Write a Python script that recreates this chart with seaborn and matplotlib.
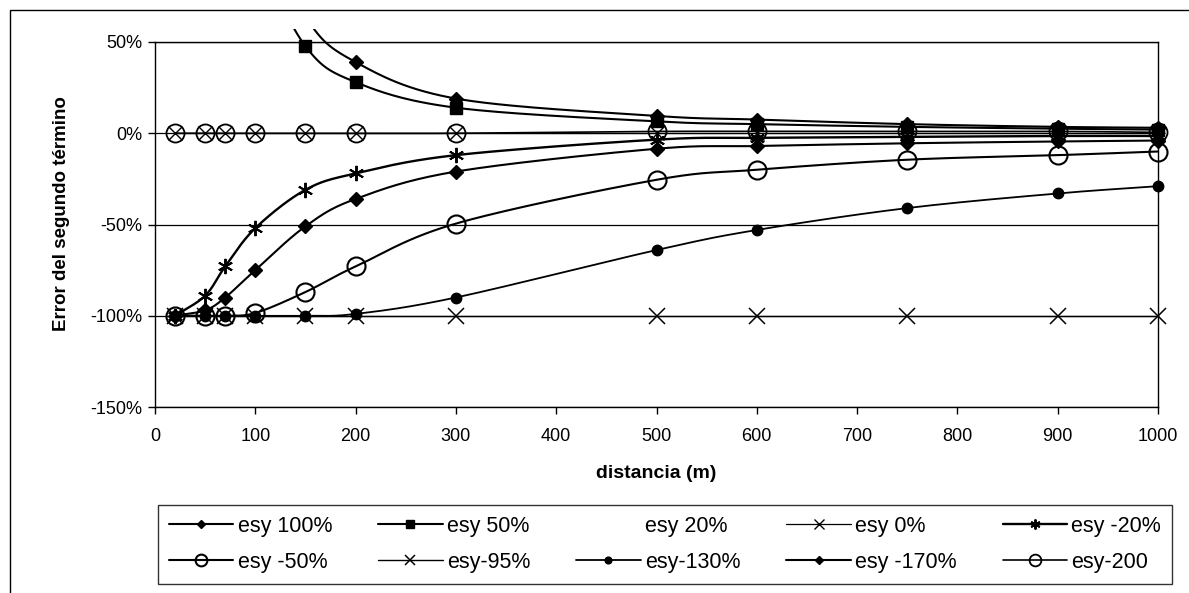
import numpy as np
import pandas as pd
import matplotlib
matplotlib.use("Agg")
import matplotlib.pyplot as plt
import seaborn as sns
from matplotlib.lines import Line2D
from matplotlib.patches import Rectangle
from matplotlib.ticker import FuncFormatter, MultipleLocator

nan = np.nan
distance = [20, 50, 70, 100, 150, 200, 300, 500, 600, 750, 900, 1000]

esy_100 = [nan, nan, nan, 125, 64, 39, 19, 9.5, 7.5, 5, 3.5, 3]
esy_50 = [nan, nan, nan, 100, 47.7, 28, 14, 6.5, 5, 3.5, 2.5, 2]
esy_20 = [nan, nan, nan, 45, 20, 12, 6, 2.5, 2, 1.5, 1, 1]
esy_0 = [0, 0, 0, 0, 0, 0, 0, 0, 0, 0, 0, 0]
esy_m20 = [-100, -89, -73, -52, -31, -22, -12, -3.5, -2.5, -2, -1.5, -1.5]
esy_m50 = [-100, -100, -100, -98.5, -87, -73, -49.5, -25.5, -20, -14.5, -12, -10]
esy_m95 = [-100, -100, -100, -100, -100, -100, -100, -100, -100, -100, -100, -100]
esy_m130 = [-100, -100, -100, -100, -100, -99, -90, -64, -53, -41, -33, -29]
esy_m170 = [-100, -97, -90, -75, -51, -36, -21, -8.5, -7, -5.5, -4.5, -4]
esy_m200 = [0, 0, 0, 0, 0, 0, 0, 1, 1, 1, 1, 0.5]

labels = ["esy 100%", "esy 50%", "esy 20%", "esy 0%", "esy -20%",
          "esy -50%", "esy-95%", "esy-130%", "esy -170%", "esy-200"]
series = [esy_100, esy_50, esy_20, esy_0, esy_m20,
          esy_m50, esy_m95, esy_m130, esy_m170, esy_m200]

styles = [
    dict(ls="-", lw=1.5, marker="D", ms=7, mfc="black", mew=1.0),
    dict(ls="-", lw=1.5, marker="s", ms=8.5, mfc="black", mew=1.0),
    dict(ls="none", lw=0, marker=None, ms=0, mfc="none", mew=0),
    dict(ls="-", lw=0.9, marker="x", ms=10, mfc="none", mew=1.0),
    dict(ls="-", lw=1.7, marker=(6, 2, 0), ms=11, mfc="none", mew=1.4),
    dict(ls="-", lw=1.5, marker="o", ms=13, mfc="none", mew=1.5),
    dict(ls="-", lw=1.0, marker="x", ms=11, mfc="none", mew=1.1),
    dict(ls="-", lw=1.3, marker="o", ms=7.5, mfc="black", mew=1.0),
    dict(ls="-", lw=1.5, marker="D", ms=7, mfc="black", mew=1.0),
    dict(ls="-", lw=1.2, marker="o", ms=13, mfc="none", mew=1.3),
]


def smooth(xs, ys, n=30):
    pts = np.array([(x, y) for x, y in zip(xs, ys) if not np.isnan(y)], dtype=float)
    if len(pts) < 2:
        return pts[:, 0], pts[:, 1]
    P = np.vstack([2 * pts[0] - pts[1], pts, 2 * pts[-1] - pts[-2]])
    t = np.linspace(0, 1, n, endpoint=False)[:, None]
    out = []
    for i in range(1, len(P) - 2):
        p0, p1, p2, p3 = P[i - 1], P[i], P[i + 1], P[i + 2]
        c1 = p1 + (p2 - p0) / 6.0
        c2 = p2 - (p3 - p1) / 6.0
        b = ((1 - t) ** 3) * p1 + 3 * ((1 - t) ** 2) * t * c1 + 3 * (1 - t) * t ** 2 * c2 + t ** 3 * p2
        out.append(b)
    out.append(P[-2][None, :])
    arr = np.vstack(out)
    return arr[:, 0], arr[:, 1]


sns.set_style("ticks")
plt.rcParams["font.family"] = ["Liberation Sans", "DejaVu Sans"]
plt.rcParams["text.color"] = "black"
plt.rcParams["axes.labelcolor"] = "black"
plt.rcParams["xtick.color"] = "black"
plt.rcParams["ytick.color"] = "black"

fig = plt.figure(figsize=(11.89, 5.93), dpi=100)
L, R, T, B = 155 / 1189, 1158 / 1189, 1 - 42 / 593, 1 - 407 / 593
ax = fig.add_axes([L, B, R - L, T - B])

ax.set_xlim(0, 1000)
ax.set_ylim(-150, 50)

clip_rect = Rectangle((-0.03, -0.03), 1.06, 1.065, transform=ax.transAxes)

for vals, st in zip(series, styles):
    if st["ls"] == "none":
        continue
    sx, sy = smooth(distance, vals)
    df_line = pd.DataFrame({"x": sx, "y": sy})
    n_before = len(ax.lines)
    sns.lineplot(data=df_line, x="x", y="y", ax=ax, color="black", lw=st["lw"],
                 sort=False, estimator=None, legend=False)
    df_pts = pd.DataFrame({"x": distance, "y": vals}).dropna()
    sns.lineplot(data=df_pts, x="x", y="y", ax=ax, color="black", linestyle="none",
                 marker=st["marker"], markersize=st["ms"], markerfacecolor=st["mfc"],
                 markeredgecolor="black", markeredgewidth=st["mew"],
                 sort=False, estimator=None, legend=False)
    for ln in ax.lines[n_before:]:
        ln.set_clip_path(clip_rect)

ax.xaxis.set_major_locator(MultipleLocator(100))
ax.yaxis.set_major_locator(MultipleLocator(50))
ax.yaxis.set_major_formatter(FuncFormatter(lambda v, p: f"{v:.0f}%"))
ax.grid(axis="y", color="black", lw=0.9)
ax.grid(axis="x", visible=False)
for sp in ax.spines.values():
    sp.set_color("black")
    sp.set_linewidth(1.0)
    sp.set_visible(True)
ax.tick_params(axis="both", direction="out", length=5, width=1, labelsize=13)
ax.tick_params(axis="x", pad=10)
ax.tick_params(axis="y", pad=4)

ax.set_xlabel("distancia (m)", fontsize=14, fontweight="bold")
ax.xaxis.set_label_coords(0.5, -0.16)
ax.set_ylabel("Error del segundo término", fontsize=13.5, fontweight="bold")
ax.yaxis.set_label_coords(-0.085, 0.53)

handles = []
for st in styles:
    if st["ls"] == "none":
        handles.append(Line2D([], [], linestyle="none", marker=None))
    else:
        handles.append(Line2D([], [], color="black", lw=st["lw"], marker=st["marker"],
                              markersize=st["ms"] * 0.65, markerfacecolor=st["mfc"],
                              markeredgecolor="black", markeredgewidth=st["mew"]))

# matplotlib fills legend columns first; reorder so entries read row by row
order = [0, 5, 1, 6, 2, 7, 3, 8, 4, 9]
leg = fig.legend([handles[i] for i in order], [labels[i] for i in order], ncol=5,
                 loc="upper left",
                 bbox_to_anchor=(158 / 1189, 1 - 585 / 593, (1172 - 158) / 1189, 80 / 593),
                 mode="expand", frameon=True, fancybox=False, edgecolor="black",
                 fontsize=15.5, handlelength=3.0, handletextpad=0.2, borderaxespad=0,
                 labelspacing=0.7, borderpad=0.5, columnspacing=0.8)
leg.get_frame().set_linewidth(1.0)

fig.add_artist(Rectangle((10 / 1189, -0.2), 1.5, 1.2 - 10 / 593, transform=fig.transFigure,
                         fill=False, edgecolor="black", lw=1.0))

fig.savefig("out.png", dpi=100)
